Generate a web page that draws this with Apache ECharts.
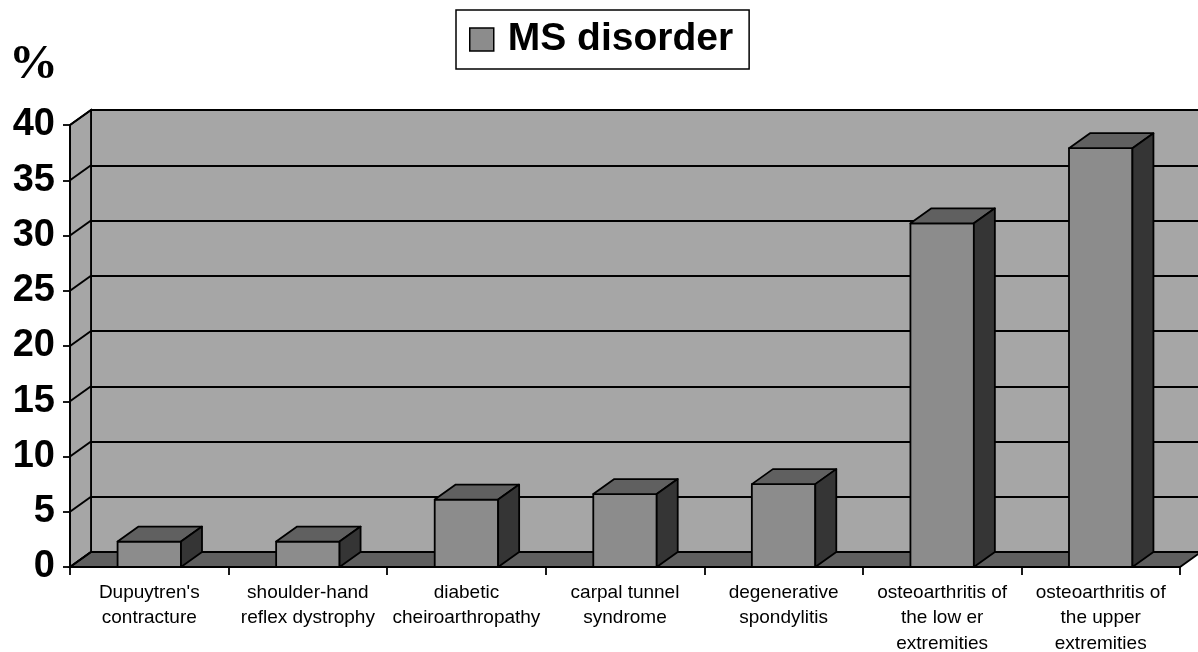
<!DOCTYPE html>
<html>
<head>
<meta charset="utf-8">
<script src="https://cdn.jsdelivr.net/npm/echarts@6/dist/echarts.min.js"></script>
<style>
  html, body { margin: 0; padding: 0; background: #fff; }
  #chart { width: 1198px; height: 652px; }
</style>
</head>
<body>
<div id="chart"></div>
<script>
// ── data ──
const categories = [
  "Dupuytren's\ncontracture",
  'shoulder-hand\nreflex dystrophy',
  'diabetic\ncheiroarthropathy',
  'carpal tunnel\nsyndrome',
  'degenerative\nspondylitis',
  'osteoarthritis of\nthe low er\nextremities',
  'osteoarthritis of\nthe upper\nextremities',
]
const values = [2.3, 2.3, 6.1, 6.6, 7.5, 31.1, 37.9]
const yTicks = [0, 5, 10, 15, 20, 25, 30, 35, 40]

// ── look ──
const DX = 21, DY = -15            // depth offset of the 3D box
const WALL  = '#a6a6a6'
const FLOOR = '#5f5f5f'
const BAR_FRONT = '#8c8c8c'
const BAR_TOP   = '#606060'
const BAR_SIDE  = '#353535'
const LINE = '#000'
const FONT = '"Liberation Sans", Arial, sans-serif'

function renderFrame(params, api) {
  const cs = params.coordSys
  const y = api.coord([0, api.value(1)])[1]
  const children = []
  if (params.dataIndex === 0) {
    const yTop = api.coord([0, yTicks[yTicks.length - 1]])[1]
    children.push({
      type: 'polygon',
      shape: { points: [[cs.x, y], [cs.x, yTop], [cs.x + DX, yTop + DY], [cs.x + DX, y + DY]] },
      style: { fill: WALL, stroke: LINE, lineWidth: 1.8 },
    })
    children.push({
      type: 'polygon',
      shape: { points: [[cs.x, y], [cs.x + cs.width, y], [cs.x + cs.width + DX, y + DY], [cs.x + DX, y + DY]] },
      style: { fill: FLOOR, stroke: LINE, lineWidth: 1.8 },
    })
  }
  children.push({
    type: 'line',
    shape: { x1: cs.x, y1: y, x2: cs.x + DX, y2: y + DY },
    style: { stroke: LINE, lineWidth: 2 },
  })
  return { type: 'group', children }
}

function renderBar(params, api) {
  const i = api.value(0)
  const top = api.coord([i, api.value(1)])
  const base = api.coord([i, 0])
  const w = api.size([1, 0])[0] * 0.4
  const x0 = top[0] - w / 2, x1 = top[0] + w / 2
  const yt = top[1], yb = base[1]
  const st = { stroke: LINE, lineWidth: 1.8, lineJoin: 'round' }
  return {
    type: 'group',
    children: [
      { type: 'rect', shape: { x: x0, y: yt, width: w, height: yb - yt },
        style: Object.assign({ fill: BAR_FRONT }, st) },
      { type: 'polygon', shape: { points: [[x0, yt], [x1, yt], [x1 + DX, yt + DY], [x0 + DX, yt + DY]] },
        style: Object.assign({ fill: BAR_TOP }, st) },
      { type: 'polygon', shape: { points: [[x1, yt], [x1 + DX, yt + DY], [x1 + DX, yb + DY], [x1, yb]] },
        style: Object.assign({ fill: BAR_SIDE }, st) },
    ],
  }
}

const chart = echarts.init(document.getElementById('chart'))
chart.setOption({
  animation: false,
  title: {
    text: '%', left: 4, top: 36,
    textStyle: { fontFamily: '"Liberation Serif", "Times New Roman", serif', fontWeight: 'bold', fontSize: 49, color: '#000' },
  },
  legend: {
    data: ['MS disorder'],
    left: 456, top: 10,
    padding: [7, 16, 7, 13],
    borderColor: LINE, borderWidth: 1.5,
    icon: 'rect', itemWidth: 24, itemHeight: 23,
    itemStyle: { color: BAR_FRONT, borderColor: LINE, borderWidth: 1.5 },
    textStyle: { fontFamily: FONT, fontWeight: 'bold', fontSize: 39, color: '#000', padding: [0, 0, 0, 9], lineHeight: 45 },
  },
  grid: [
    // front plane
    { left: 70, top: 125, width: 1110, height: 442, outerBoundsMode: 'none', containLabel: false },
    // back wall
    { left: 70 + DX, top: 125 + DY, width: 1110, height: 442, show: true, outerBoundsMode: 'none',
      backgroundColor: WALL, borderColor: LINE, borderWidth: 1.8, z: 0 },
  ],
  xAxis: [
    { type: 'category', gridIndex: 0, data: categories, z: 5,
      axisLine: { lineStyle: { color: LINE, width: 1.8 } },
      axisTick: { show: true, length: 8, lineStyle: { color: LINE, width: 1.8 } },
      axisLabel: { color: '#000', fontFamily: FONT, fontSize: 19, lineHeight: 25.5, margin: 13, interval: 0 } },
    { type: 'value', gridIndex: 1, show: false },
  ],
  yAxis: [
    { type: 'value', gridIndex: 0, min: 0, max: 40, interval: 5, z: 5,
      axisLine: { show: true, lineStyle: { color: LINE, width: 1.8 } },
      axisTick: { show: true, length: 7, lineStyle: { color: LINE, width: 1.8 } },
      axisLabel: { color: '#000', fontFamily: FONT, fontWeight: 'bold', fontSize: 38, margin: 15 },
      splitLine: { show: false } },
    { type: 'value', gridIndex: 1, min: 0, max: 40, interval: 5,
      axisLine: { show: false }, axisTick: { show: false }, axisLabel: { show: false },
      splitLine: { show: true, lineStyle: { color: LINE, width: 2 } } },
  ],
  series: [
    {
      type: 'custom', xAxisIndex: 0, yAxisIndex: 0, z: 2, clip: false, silent: true,
      data: yTicks.map(v => [0, v]),
      encode: { x: 0, y: 1 },
      renderItem: renderFrame,
    },
    {
      name: 'MS disorder',
      type: 'custom', xAxisIndex: 0, yAxisIndex: 0, z: 3, clip: false,
      itemStyle: { color: BAR_FRONT },
      data: values.map((v, i) => [i, v]),
      encode: { x: 0, y: 1 },
      renderItem: renderBar,
    },
  ],
})
</script>
</body>
</html>
